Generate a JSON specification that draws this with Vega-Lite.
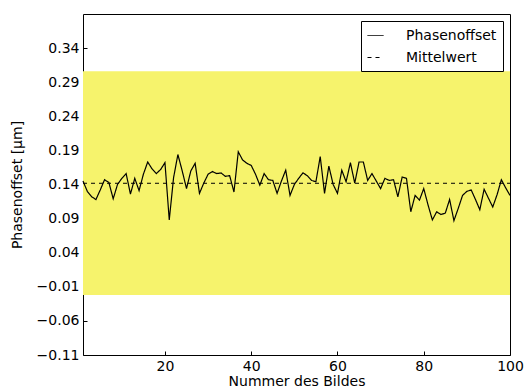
{
  "$schema": "https://vega.github.io/schema/vega-lite/v6.json",
  "autosize": {"type": "none"},
  "padding": {"left": 83, "top": 14, "right": 15, "bottom": 36},
  "width": 427,
  "height": 341,
  "background": "white",
  "config": {
    "font": "DejaVu Sans",
    "view": {"stroke": "black", "strokeWidth": 1},
    "axis": {"labelFont": "DejaVu Sans", "labelFontSize": 14, "labelColor": "black", "titleFont": "DejaVu Sans", "titleFontSize": 14, "titleFontWeight": "normal", "titleColor": "black", "grid": false, "domain": false, "tickColor": "black", "tickSize": -4, "labelPadding": 8, "labelFlush": false, "labelOverlap": false, "zindex": 1},
    "legend": {"labelFont": "DejaVu Sans", "labelFontSize": 14, "labelColor": "black"}
  },
  "datasets": {
    "series": [
      {"bild": 1, "offset": 0.145}, {"bild": 2, "offset": 0.130}, {"bild": 3, "offset": 0.122}, {"bild": 4, "offset": 0.118}, {"bild": 5, "offset": 0.132},
      {"bild": 6, "offset": 0.147}, {"bild": 7, "offset": 0.143}, {"bild": 8, "offset": 0.119}, {"bild": 9, "offset": 0.140}, {"bild": 10, "offset": 0.149},
      {"bild": 11, "offset": 0.156}, {"bild": 12, "offset": 0.126}, {"bild": 13, "offset": 0.149}, {"bild": 14, "offset": 0.131}, {"bild": 15, "offset": 0.155},
      {"bild": 16, "offset": 0.173}, {"bild": 17, "offset": 0.163}, {"bild": 18, "offset": 0.156}, {"bild": 19, "offset": 0.162}, {"bild": 20, "offset": 0.172},
      {"bild": 21, "offset": 0.088}, {"bild": 22, "offset": 0.150}, {"bild": 23, "offset": 0.184}, {"bild": 24, "offset": 0.160}, {"bild": 25, "offset": 0.134},
      {"bild": 26, "offset": 0.160}, {"bild": 27, "offset": 0.171}, {"bild": 28, "offset": 0.127}, {"bild": 29, "offset": 0.142}, {"bild": 30, "offset": 0.155},
      {"bild": 31, "offset": 0.159}, {"bild": 32, "offset": 0.156}, {"bild": 33, "offset": 0.157}, {"bild": 34, "offset": 0.152}, {"bild": 35, "offset": 0.153},
      {"bild": 36, "offset": 0.129}, {"bild": 37, "offset": 0.188}, {"bild": 38, "offset": 0.176}, {"bild": 39, "offset": 0.171}, {"bild": 40, "offset": 0.168},
      {"bild": 41, "offset": 0.155}, {"bild": 42, "offset": 0.139}, {"bild": 43, "offset": 0.156}, {"bild": 44, "offset": 0.147}, {"bild": 45, "offset": 0.146},
      {"bild": 46, "offset": 0.127}, {"bild": 47, "offset": 0.145}, {"bild": 48, "offset": 0.161}, {"bild": 49, "offset": 0.124}, {"bild": 50, "offset": 0.140},
      {"bild": 51, "offset": 0.149}, {"bild": 52, "offset": 0.157}, {"bild": 53, "offset": 0.153}, {"bild": 54, "offset": 0.146}, {"bild": 55, "offset": 0.144},
      {"bild": 56, "offset": 0.181}, {"bild": 57, "offset": 0.127}, {"bild": 58, "offset": 0.167}, {"bild": 59, "offset": 0.140}, {"bild": 60, "offset": 0.127},
      {"bild": 61, "offset": 0.161}, {"bild": 62, "offset": 0.144}, {"bild": 63, "offset": 0.172}, {"bild": 64, "offset": 0.142}, {"bild": 65, "offset": 0.173},
      {"bild": 66, "offset": 0.173}, {"bild": 67, "offset": 0.146}, {"bild": 68, "offset": 0.156}, {"bild": 69, "offset": 0.145}, {"bild": 70, "offset": 0.134},
      {"bild": 71, "offset": 0.149}, {"bild": 72, "offset": 0.146}, {"bild": 73, "offset": 0.147}, {"bild": 74, "offset": 0.122}, {"bild": 75, "offset": 0.151},
      {"bild": 76, "offset": 0.149}, {"bild": 77, "offset": 0.100}, {"bild": 78, "offset": 0.124}, {"bild": 79, "offset": 0.117}, {"bild": 80, "offset": 0.134},
      {"bild": 81, "offset": 0.110}, {"bild": 82, "offset": 0.088}, {"bild": 83, "offset": 0.100}, {"bild": 84, "offset": 0.096}, {"bild": 85, "offset": 0.098},
      {"bild": 86, "offset": 0.118}, {"bild": 87, "offset": 0.087}, {"bild": 88, "offset": 0.105}, {"bild": 89, "offset": 0.124}, {"bild": 90, "offset": 0.130},
      {"bild": 91, "offset": 0.132}, {"bild": 92, "offset": 0.118}, {"bild": 93, "offset": 0.103}, {"bild": 94, "offset": 0.133}, {"bild": 95, "offset": 0.120},
      {"bild": 96, "offset": 0.107}, {"bild": 97, "offset": 0.125}, {"bild": 98, "offset": 0.147}, {"bild": 99, "offset": 0.135}, {"bild": 100, "offset": 0.124}
    ],
    "band": [{"start": 1, "end": 100, "lo": -0.022, "hi": 0.306, "mean": 0.1418}]
  },
  "layer": [
    {
      "data": {"name": "band"},
      "mark": {"type": "rect", "color": "#f6f36c", "opacity": 1},
      "encoding": {
        "x": {"field": "start", "type": "quantitative", "title": "Nummer des Bildes", "scale": {"domain": [1, 100], "nice": false, "zero": false},
              "axis": {"values": [20, 40, 60, 80, 100], "tickCount": 20, "titlePadding": 1}},
        "x2": {"field": "end"},
        "y": {"field": "lo", "type": "quantitative", "title": "Phasenoffset [µm]", "scale": {"domain": [-0.11, 0.39], "nice": false, "zero": false},
              "axis": {"values": [-0.11, -0.06, -0.01, 0.04, 0.09, 0.14, 0.19, 0.24, 0.29, 0.34], "tickCount": 20, "format": ".2f", "titlePadding": 12}},
        "y2": {"field": "hi"}
      }
    },
    {
      "data": {"name": "band"},
      "mark": {"type": "rule", "color": "black", "strokeWidth": 1},
      "encoding": {
        "x": {"field": "start", "type": "quantitative", "title": "Nummer des Bildes"},
        "x2": {"field": "end"},
        "y": {"field": "mean", "type": "quantitative", "title": "Phasenoffset [µm]"},
        "strokeDash": {"datum": "Mittelwert", "type": "nominal"}
      }
    },
    {
      "data": {"name": "series"},
      "mark": {"type": "line", "color": "black", "strokeWidth": 1.2},
      "encoding": {
        "x": {"field": "bild", "type": "quantitative", "title": "Nummer des Bildes"},
        "y": {"field": "offset", "type": "quantitative", "title": "Phasenoffset [µm]"},
        "strokeDash": {"datum": "Phasenoffset", "type": "nominal",
          "scale": {"domain": ["Phasenoffset", "Mittelwert"], "range": [[1, 0], [4, 4]]},
          "legend": {"title": null, "orient": "top-right", "offset": 7, "strokeColor": "black", "fillColor": "white", "padding": 6, "cornerRadius": 0,
                     "symbolType": "stroke", "symbolSize": 256, "symbolStrokeColor": "black", "symbolStrokeWidth": 1, "labelOffset": 22, "rowPadding": 6}}
      }
    }
  ]
}
